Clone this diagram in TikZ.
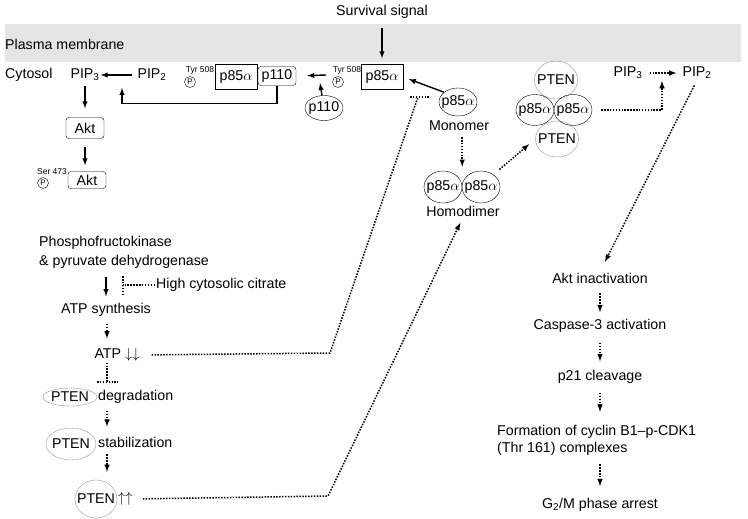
\documentclass[tikz,border=0pt]{standalone}
\usepackage{fontspec}
\setmainfont{Liberation Sans}
\usetikzlibrary{shapes,arrows,positioning}
\definecolor{membrane}{RGB}{229,229,229}
\definecolor{ptenline}{RGB}{150,150,150}

\begin{document}
\begin{tikzpicture}[x=1pt,y=-1pt,font=\fontsize{14.2}{17}\selectfont]
\tikzstyle{txt}=[inner sep=1pt]
\tikzstyle{sqbox}=[rectangle, draw=black, minimum width=42pt, minimum height=25pt, inner sep=1pt]
\tikzstyle{rbox}=[rectangle, rounded corners=3pt, draw=black, minimum width=38pt, minimum height=19pt, inner sep=1pt]
\tikzstyle{prot}=[ellipse, draw=black, inner xsep=-4pt, inner ysep=0pt, minimum width=38pt, minimum height=29pt]
\tikzstyle{pten}=[ellipse, draw=ptenline, inner xsep=-5pt, inner ysep=0pt, minimum width=43pt, minimum height=37pt]
\tikzstyle{phos}=[circle, draw=black, minimum size=11pt, inner sep=0pt, font=\fontsize{8}{8}\selectfont]
\tikzstyle{site}=[inner sep=0pt, font=\fontsize{8.5}{9}\selectfont]
\tikzstyle{connect}=[-latex, line width=1.4pt]
\tikzstyle{dots}=[line width=1.5pt, dash pattern=on 1.5pt off 1.4pt]
\tikzstyle{dconnect}=[dots, -latex]
\useasboundingbox (0,0) rectangle (748,519);
\fill[membrane] (5,24) rectangle (741,62);

% membrane and cytosol
	\node[txt] (signal) at (382,12) {Survival signal};
	\node[txt, anchor=west] (pm) at (4,44) {Plasma membrane};
	\node[txt, anchor=west] (cyto) at (4,75) {Cytosol};

% PI3K / Akt
	\node[txt] (pip3a) at (85,75) {PIP\textsubscript{3}};
	\node[txt] (pip2a) at (152,75) {PIP\textsubscript{2}};
	\node[site] (tyr_1) at (200,70) {Tyr 508};
	\node[phos] (ph_1) at (190,82) {P};
	\node[sqbox] (p85_1) at (236,77) {p85$\alpha$};
	\node[rbox] (p110_1) at (277,76) {p110};
	\node[rbox] (akt_1) at (85,128) [minimum height=21pt] {Akt};
	\node[rbox] (akt_2) at (87,180) [minimum height=17pt] {Akt};
	\node[site] (ser) at (52,172) {Ser 473};
	\node[phos] (ph_2) at (43,183) {P};
	\coordinate (conv_1) at (122,88);

% p85 / p110 binding
	\node[prot] (p110_2) at (324,108) [minimum height=25pt] {p110};
	\coordinate (bind) at (326,75);
	\node[site] (tyr_2) at (347,70) {Tyr 508};
	\node[phos] (ph_3) at (338,82) {P};
	\node[sqbox] (p85_2) at (382,77) {p85$\alpha$};
	\node[prot] (mono) at (458,102) [minimum height=28pt] {p85$\alpha$};
	\node[txt] (monolab) at (459,126) {Monomer};
	\node[prot] (dim_1) at (443,187) [minimum height=32pt] {p85$\alpha$};
	\node[prot] (dim_2) at (481,187) [minimum height=32pt] {p85$\alpha$};
	\node[txt] (dimlab) at (463,211) {Homodimer};
	\coordinate (blk_2) at (418,97);

% PTEN complex
	\node[pten] (pten_1) at (556,80) [minimum height=38pt] {PTEN};
	\node[pten] (pten_2) at (557,139) [minimum height=36pt] {PTEN};
	\node[prot] (cx_1) at (535,110) [minimum height=31pt] {p85$\alpha$};
	\node[prot] (cx_2) at (573,110) [minimum height=31pt] {p85$\alpha$};
	\node[txt] (pip3b) at (628,73) {PIP\textsubscript{3}};
	\node[txt] (pip2b) at (697,73) {PIP\textsubscript{2}};
	\coordinate (conv_2) at (662,81);

% downstream
	\node[txt] (akti) at (600,278) {Akt inactivation};
	\node[txt] (casp) at (600,326) {Caspase-3 activation};
	\node[txt] (p21) at (600,377) {p21 cleavage};
	\node[txt, anchor=west, align=left] (cyc) at (496,440) {Formation of cyclin B1–p-CDK1\\(Thr 161) complexes};
	\node[txt] (arrest) at (600,505) {G\textsubscript{2}/M phase arrest};

% metabolism
	\node[txt, anchor=west, align=left] (pfk) at (38,252) {Phosphofructokinase\\[2pt]\& pyruvate dehydrogenase};
	\node[txt] (atps) at (106,310) {ATP synthesis};
	\node[txt, anchor=west] (citrate) at (155,285) {High cytosolic citrate};
	\coordinate (blk_1) at (123,285);
	\node[txt] (atp) at (117,355) {ATP $\downarrow\downarrow$};
	\coordinate (bend_1) at (330,353);
	\coordinate (blk_3) at (107,382);
	\node[pten] (pten_d) at (70,397) [minimum width=54pt, minimum height=18pt] {PTEN};
	\node[txt, anchor=west] (deg) at (97,397) {degradation};
	\node[pten] (pten_s) at (71,444) [minimum width=50pt, minimum height=32pt] {PTEN};
	\node[txt, anchor=west] (stab) at (97,442) {stabilization};
	\node[pten] (pten_u) at (96,499) [minimum width=42pt, minimum height=38pt] {PTEN};
	\node[txt, anchor=west] (up) at (117,499) {$\uparrow\uparrow$};
	\coordinate (bend_2) at (328,496);

	\path
		(pip2a) edge [connect, shorten <=4pt] (pip3a)
		(pip3a) edge [connect, shorten <=4pt, shorten >=9pt] (akt_1)
		(signal) edge [connect, shorten <=8pt, shorten >=6pt] (p85_2)
		(bind) edge [connect, shorten >=11pt] (p110_1.east)
		(p110_2) edge [connect] ([xshift=-6pt,yshift=-8pt]bind)
		(mono.145) edge [connect, shorten >=6pt] (p85_2.east)
		(pip3b) edge [dconnect, shorten <=6pt, shorten >=5pt] (pip2b)
		(akti) edge [dconnect, shorten <=9pt, shorten >=6pt] (casp)
		(casp) edge [dconnect, shorten <=9pt, shorten >=8pt] (p21);
	\draw[connect] (p110_1.south) -- ++(0,18) -| (conv_1);
	\draw[connect, shorten <=8pt, shorten >=6pt] (akt_1.south) -- (akt_1 |- akt_2.north);
	\draw[dconnect, shorten <=5pt, shorten >=4pt] (monolab.south -| dim_1.east) -- (dim_1.north -| dim_1.east);
	\draw[dconnect, shorten <=8pt, shorten >=8pt] (dim_2.45) -- (pten_2.west);
	\draw[dconnect, shorten <=9pt] (cx_2.east) -| (conv_2);
	\draw[dconnect, shorten <=6pt, shorten >=11pt] (pip2b.south) -- (akti.north);
	\draw[dconnect, shorten <=8pt, shorten >=12pt] (p21.south) -- (p21.south |- cyc.north);
	\draw[dconnect, shorten <=8pt, shorten >=11pt] (arrest.north |- cyc.south) -- (arrest.north);

	\draw[connect, shorten <=8pt, shorten >=6pt] (atps.north |- pfk.south) -- (atps.north);
	\draw[dots] (citrate.west) -- (blk_1);
	\draw[dots] ([yshift=-10pt]blk_1) -- ([yshift=10pt]blk_1);
	\draw[dconnect, shorten <=6pt, shorten >=9pt] (atps.south -| blk_3) -- (atp.north -| blk_3);
	\draw[dots, shorten <=11pt] (atp.east) -- (bend_1) -- (blk_2);
	\draw[dots] ([xshift=-8pt]blk_2) -- ([xshift=12pt]blk_2);
	\draw[dots] (atp.south -| blk_3) -- (blk_3);
	\draw[dots] ([xshift=-10pt]blk_3) -- ([xshift=11pt]blk_3);
	\draw[dconnect, shorten <=6pt, shorten >=9pt] (deg.south -| blk_3) -- (stab.north -| blk_3);
	\draw[dconnect, shorten <=6pt, shorten >=8pt] (stab.south -| blk_3) -- (pten_u.north -| blk_3);
	\draw[dconnect, shorten <=9pt, shorten >=6pt] (up.east) -- (bend_2) -- (dimlab.south);
\end{tikzpicture}
\end{document}
